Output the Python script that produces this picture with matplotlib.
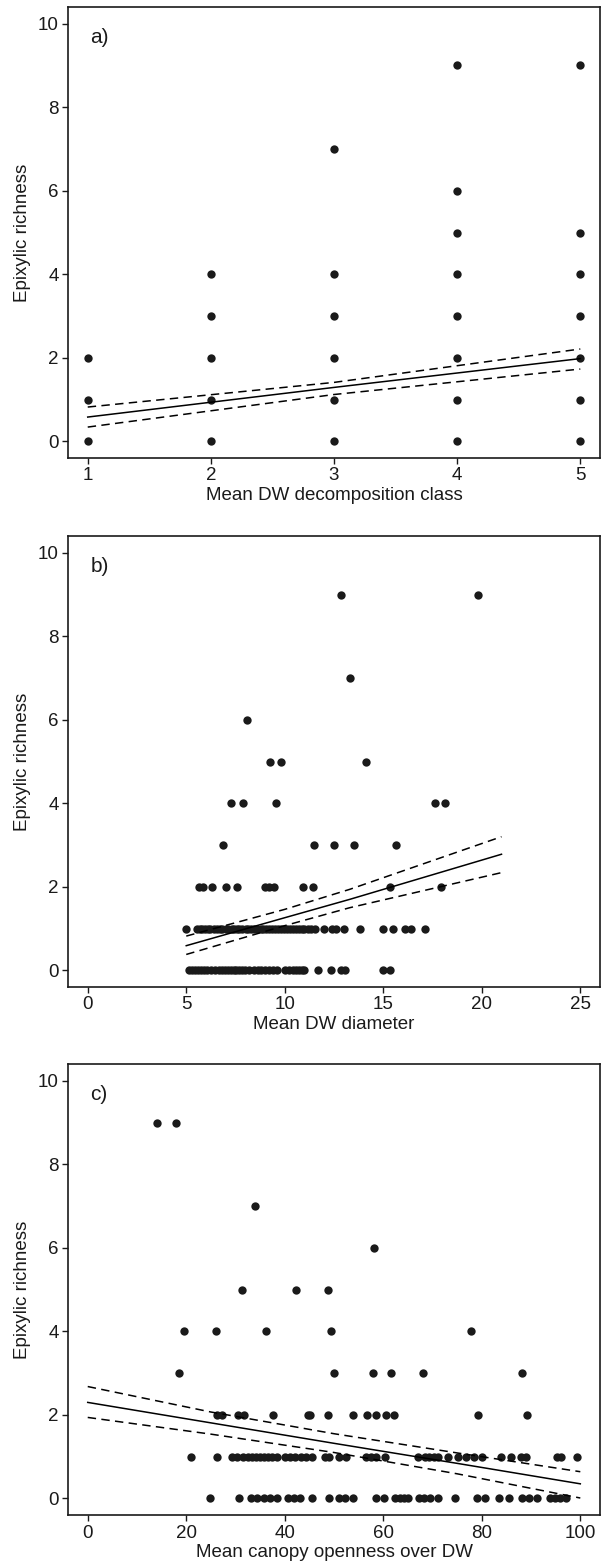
import matplotlib
matplotlib.use("Agg")
import matplotlib.pyplot as plt
import numpy as np

plt.rcParams['font.family'] = ['Liberation Sans', 'DejaVu Sans']

# Donnees panneau a) - classe de decomposition
a_x = [1, 1, 1,
       2, 2, 2, 2, 2,
       3, 3, 3, 3, 3, 3,
       4, 4, 4, 4, 4, 4, 4, 4,
       5, 5, 5, 5, 5, 5, 5]
a_y = [0, 1, 2,
       0, 1, 2, 3, 4,
       0, 1, 2, 3, 4, 7,
       0, 1, 2, 3, 4, 5, 6, 9,
       0, 1, 2, 3, 4, 5, 9]
a_fit_x = [1, 3, 5]
a_fit = [0.58, 1.29, 1.98]
a_upr = [0.82, 1.41, 2.21]
a_lwr = [0.34, 1.12, 1.73]

# Donnees panneau b) - diametre
b_x0 = [5.12, 5.3, 5.45, 5.6, 5.75, 5.9, 6.05, 6.25, 6.45,
        6.65, 6.8, 6.95, 7.1, 7.25, 7.4, 7.55, 7.7, 7.85, 8.0, 8.2, 8.45,
        8.62, 8.8, 9.0, 9.2, 9.4, 9.6,
        10.0, 10.2, 10.4, 10.55, 10.7, 10.85, 11.0,
        11.67, 12.37, 12.87, 13.05, 14.98, 15.32]
b_x1 = [4.99, 5.55, 5.68, 5.8, 5.97, 6.1, 6.22, 6.4, 6.55, 6.7, 6.83, 7.0,
        7.12, 7.3, 7.42, 7.6, 7.7, 7.85, 8.02, 8.15, 8.3, 8.45, 8.6, 8.78,
        8.9, 9.05, 9.2, 9.35, 9.5, 9.68, 9.8, 9.95, 10.1, 10.28, 10.4, 10.55,
        10.72, 10.85, 11.0, 11.2, 11.35, 11.55,
        12.0, 12.4, 12.6, 13.0, 13.84, 14.98, 15.48, 16.09, 16.4, 17.14]
b_x2 = [5.65, 5.85, 6.33, 7.0, 7.58, 9.0, 9.2, 9.45, 10.94, 11.45, 15.32, 17.95]
b_x3 = [6.87, 11.46, 12.49, 13.49, 15.64]
b_x4 = [7.27, 7.87, 9.54, 17.63, 18.15]
b_x5 = [9.26, 9.83, 14.1]
b_x6 = [8.08]
b_x7 = [13.33]
b_x9 = [12.85, 19.8]
b_fit_x = [5, 10, 13.3, 21]
b_fit = [0.59, 1.26, 1.70, 2.78]
b_upr = [0.82, 1.46, 1.94, 3.2]
b_lwr = [0.38, 1.07, 1.50, 2.34]

# Donnees panneau c) - ouverture de la canopee
c_x0 = [24.9, 30.7, 33.1, 34.3, 35.8, 37.0, 38.5, 40.6, 41.8, 43.0, 45.6,
        49.0, 51.0, 52.2, 53.9, 58.6, 60.1, 62.4, 63.3, 64.2, 65.0,
        67.2, 68.3, 69.4, 71.2, 74.6, 79.0, 80.6, 83.5, 85.6, 88.2, 89.6,
        91.2, 93.8, 94.8, 95.9, 97.0]
c_x1 = [21.0, 26.3, 29.3, 30.3, 31.5, 32.6, 33.4, 34.2, 35.0, 35.8, 36.6,
        37.4, 38.4, 40.0, 41.0, 42.0, 43.2, 44.4, 45.6, 48.2, 49.0, 51.0,
        52.4, 56.5, 57.5, 58.5, 60.4, 67.1, 68.5, 69.3, 70.2, 71.2, 73.1,
        75.2, 76.7, 78.4, 80.1, 83.8, 86.0, 88.0, 89.0, 95.2, 96.1, 99.3]
c_x2 = [26.2, 27.2, 30.5, 31.7, 37.7, 44.8, 45.2, 48.7, 53.9, 56.6, 58.6,
        60.6, 62.1, 79.2, 89.1]
c_x3 = [18.6, 49.9, 57.9, 61.6, 68.1, 88.2]
c_x4 = [19.6, 26.0, 36.2, 49.3, 77.8]
c_x5 = [31.3, 42.2, 48.8]
c_x6 = [58.07]
c_x7 = [33.9]
c_x9 = [14.08, 17.93]
c_fit_x = [0, 25, 50, 75, 100]
c_fit = [2.30, 1.81, 1.32, 0.84, 0.35]
c_upr = [2.68, 2.07, 1.55, 1.09, 0.64]
c_lwr = [1.94, 1.54, 1.10, 0.59, 0.01]


def rows(*groups):
    xs, ys = [], []
    for yv, xv in groups:
        xs += list(xv)
        ys += [yv] * len(xv)
    return np.array(xs), np.array(ys)


def panel(ax, x, y, fx, fit, upr, lwr, xlim, xticks, xlabel, tag):
    ax.plot(x, y, 'o', color='#1a1a1a', ms=6.0, mec='none', zorder=3)
    ax.plot(fx, fit, '-', color='black', lw=1.1, zorder=4)
    ax.plot(fx, upr, '--', color='black', lw=1.1, dashes=(5.5, 3.5), zorder=4)
    ax.plot(fx, lwr, '--', color='black', lw=1.1, dashes=(5.5, 3.5), zorder=4)
    ax.set_xlim(xlim)
    ax.set_ylim(-0.4, 10.4)
    ax.set_xticks(xticks)
    ax.set_yticks([0, 2, 4, 6, 8, 10])
    ax.tick_params(direction='out', length=4.3, width=1.0, labelsize=13.5,
                   pad=2.5, colors='#1a1a1a')
    for s in ax.spines.values():
        s.set_linewidth(1.2)
        s.set_color('#1a1a1a')
    ax.set_xlabel(xlabel, fontsize=13.5, labelpad=1.5, color='#1a1a1a')
    ax.set_ylabel('Epixylic richness', fontsize=13.5, labelpad=5, color='#1a1a1a')
    ax.text(0.042, 0.932, tag, transform=ax.transAxes, fontsize=15,
            va='center', ha='left', color='#1a1a1a')


fig = plt.figure(figsize=(6.02, 15.62), dpi=100)
w = 0.8837
h = 0.2887
ax1 = fig.add_axes([0.113, 0.7068, w, h])
ax2 = fig.add_axes([0.113, 0.3681, w, h])
ax3 = fig.add_axes([0.113, 0.0300, w, h])

panel(ax1, np.array(a_x), np.array(a_y), a_fit_x, a_fit, a_upr, a_lwr,
      (0.84, 5.16), [1, 2, 3, 4, 5], 'Mean DW decomposition class', 'a)')

bx, by = rows((0, b_x0), (1, b_x1), (2, b_x2), (3, b_x3), (4, b_x4),
              (5, b_x5), (6, b_x6), (7, b_x7), (9, b_x9))
panel(ax2, bx, by, b_fit_x, b_fit, b_upr, b_lwr,
      (-1, 26), [0, 5, 10, 15, 20, 25], 'Mean DW diameter', 'b)')

cx, cy = rows((0, c_x0), (1, c_x1), (2, c_x2), (3, c_x3), (4, c_x4),
              (5, c_x5), (6, c_x6), (7, c_x7), (9, c_x9))
panel(ax3, cx, cy, c_fit_x, c_fit, c_upr, c_lwr,
      (-4, 104), [0, 20, 40, 60, 80, 100], 'Mean canopy openness over DW', 'c)')

fig.savefig('out.png', dpi=100)
